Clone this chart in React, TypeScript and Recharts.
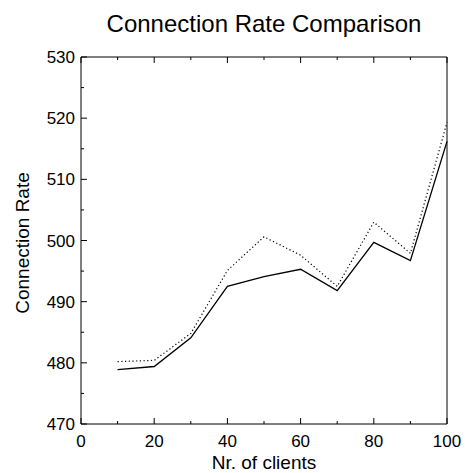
import { LineChart, Line, XAxis, YAxis } from 'recharts'

const clients = [10, 20, 30, 40, 50, 60, 70, 80, 90, 100]
const rateA = [478.9, 479.4, 484.1, 492.5, 494.1, 495.3, 491.8, 499.7, 496.7, 516.2]
const rateB = [480.2, 480.4, 484.8, 495.1, 500.6, 497.6, 492.5, 503.0, 497.9, 519.3]

const xTicks = [0, 10, 20, 30, 40, 50, 60, 70, 80, 90, 100]
const yTicks = [470, 475, 480, 485, 490, 495, 500, 505, 510, 515, 520, 525, 530]

const data = clients.map((c, i) => ({ clients: c, a: rateA[i], b: rateB[i] }))

const FONT = '"Liberation Sans", Arial, sans-serif'

const BottomTick = ({ x, y, payload }: any) => {
  const major = payload.value % 20 === 0
  return (
    <g>
      <line x1={x} x2={x} y1={y} y2={y - (major ? 6 : 3)} stroke="#000" strokeWidth={1} />
      {major && (
        <text x={x} y={y + 23} textAnchor="middle" fontSize={17} fontFamily={FONT} fill="#000">
          {payload.value}
        </text>
      )}
    </g>
  )
}

const TopTick = ({ x, y, payload }: any) => {
  const major = payload.value % 20 === 0
  return <line x1={x} x2={x} y1={y} y2={y + (major ? 6 : 3)} stroke="#000" strokeWidth={1} />
}

const LeftTick = ({ x, y, payload }: any) => {
  const major = payload.value % 10 === 0
  return (
    <g>
      <line x1={x} x2={x + (major ? 6 : 3)} y1={y} y2={y} stroke="#000" strokeWidth={1} />
      {major && (
        <text x={x - 6} y={y + 6} textAnchor="end" fontSize={17} fontFamily={FONT} fill="#000">
          {payload.value}
        </text>
      )}
    </g>
  )
}

const RightTick = ({ x, y, payload }: any) => {
  const major = payload.value % 10 === 0
  return <line x1={x} x2={x - (major ? 6 : 3)} y1={y} y2={y} stroke="#000" strokeWidth={1} />
}

export default function App() {
  return (
    <div style={{ position: 'absolute', left: 0, top: 0, width: 465, height: 473, background: '#fff' }}>
      <svg width={465} height={473} style={{ position: 'absolute', left: 0, top: 0 }}>
        <text x={264} y={32} textAnchor="middle" fontSize={24} fontFamily={FONT} fill="#000">
          Connection Rate Comparison
        </text>
        <text x={264} y={469} textAnchor="middle" fontSize={19} fontFamily={FONT} fill="#000">
          Nr. of clients
        </text>
        <text
          x={29}
          y={243}
          textAnchor="middle"
          fontSize={19}
          fontFamily={FONT}
          fill="#000"
          transform="rotate(-90 29 243)"
        >
          Connection Rate
        </text>
      </svg>
      <div style={{ position: 'absolute', left: 0, top: 0 }}>
        <LineChart width={465} height={473} data={data} margin={{ top: 56, right: 17, bottom: 0, left: 0 }}>
          <XAxis
            xAxisId="bottom"
            dataKey="clients"
            type="number"
            domain={[0, 100]}
            ticks={xTicks}
            orientation="bottom"
            height={49}
            tickSize={0}
            tickMargin={0}
            tickLine={false}
            tick={<BottomTick />}
            axisLine={{ stroke: '#000' }}
            interval={0}
          />
          <XAxis
            xAxisId="top"
            dataKey="clients"
            type="number"
            domain={[0, 100]}
            ticks={xTicks}
            orientation="top"
            height={1}
            tickSize={0}
            tickMargin={0}
            tickLine={false}
            tick={<TopTick />}
            axisLine={{ stroke: '#000' }}
            interval={0}
          />
          <YAxis
            yAxisId="left"
            type="number"
            domain={[470, 530]}
            ticks={yTicks}
            width={81}
            tickSize={0}
            tickMargin={0}
            tickLine={false}
            tick={<LeftTick />}
            axisLine={{ stroke: '#000' }}
            interval={0}
          />
          <YAxis
            yAxisId="right"
            orientation="right"
            type="number"
            domain={[470, 530]}
            ticks={yTicks}
            width={1}
            tickSize={0}
            tickMargin={0}
            tickLine={false}
            tick={<RightTick />}
            axisLine={{ stroke: '#000' }}
            interval={0}
          />
          <Line
            xAxisId="bottom"
            yAxisId="left"
            dataKey="b"
            stroke="#000"
            strokeWidth={1.2}
            strokeDasharray="1.2 2.5"
            dot={false}
            isAnimationActive={false}
          />
          <Line
            xAxisId="bottom"
            yAxisId="left"
            dataKey="a"
            stroke="#000"
            strokeWidth={1.3}
            dot={false}
            isAnimationActive={false}
          />
        </LineChart>
      </div>
    </div>
  )
}
